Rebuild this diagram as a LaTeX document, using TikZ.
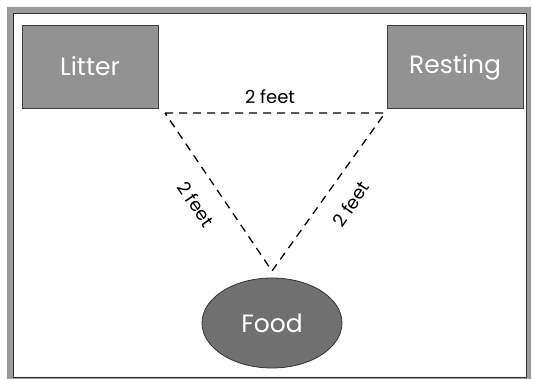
\documentclass[tikz,border=0pt]{standalone}
\usepackage{fontspec}
\setmainfont{Poppins}
\usetikzlibrary{shapes.geometric}
\definecolor{boxgray}{RGB}{146,146,146}
\definecolor{ovalgray}{RGB}{112,112,112}
\definecolor{framegray}{RGB}{155,155,155}
\tikzset{
  areabox/.style={draw=black!75, line width=0.8pt, fill=boxgray, minimum width=136pt, minimum height=83pt, inner sep=0pt, text=white, font=\fontsize{25}{27}\selectfont},
  oval/.style={ellipse, draw=black!80, line width=0.8pt, fill=ovalgray, minimum width=140pt, minimum height=90pt, inner sep=0pt, text=white, font=\fontsize{25}{27}\selectfont},
  dashline/.style={line width=1.3pt, dash pattern=on 8pt off 6pt},
  lbl/.style={font=\fontsize{18}{20}\selectfont, inner sep=0pt}
}
\begin{document}
\begin{tikzpicture}[x=1pt,y=-1pt]
\useasboundingbox (0,0) rectangle (533,379);
\fill[white] (0,0) rectangle (533,379);
% frame
\fill[framegray, even odd rule] (7,7) rectangle (531,386) (13,13) rectangle (526,377);
\draw[black!80, line width=0.8pt] (13,13) rectangle (526,377);
% nodes
\node[areabox] (litter) at (90,66.5) {Litter};
\node[areabox] (resting) at (455,67) {Resting};
\node[oval] (food) at (272,323) {Food};
% triangle
\coordinate (tl) at (165,113);
\coordinate (tr) at (385,113);
\coordinate (bt) at (272,271);
\draw[dashline] (tl) -- (tr) -- (bt) -- cycle;
\node[lbl] (ltop) at (270,97) {2 feet};
\node[lbl, rotate=-56] (lleft) at (196,204) {2 feet};
\node[lbl, rotate=56] (lright) at (351,204) {2 feet};
\end{tikzpicture}
\end{document}
